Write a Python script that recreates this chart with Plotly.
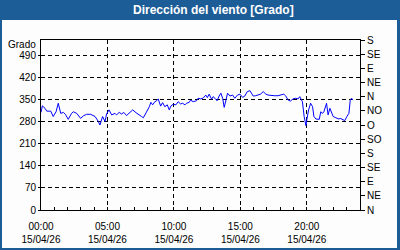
import plotly.graph_objects as go

# ---- data ----
times = ["00:00","00:06","00:18","00:26","00:44","00:55","01:08","01:18","01:29","01:41",
         "01:50","02:03","02:18","02:26","02:41","02:59","03:11","03:26","03:44","04:04",
         "04:19","04:26","04:38","04:49","04:56","05:07","05:19","05:34","05:41","05:53",
         "06:04","06:14","06:26","06:41","06:54","07:09","07:19","07:34","07:42","07:49",
         "07:57","08:09","08:16","08:24","08:34","08:42","08:49","09:00","09:09","09:19",
         "09:30","09:39","09:46","09:57","10:09","10:19","10:30","10:39","10:50","10:57",
         "11:09","11:15","11:27","11:42","11:49","12:01","12:11","12:24","12:31","12:39",
         "12:50","12:57","13:05","13:15","13:24","13:32","13:40","13:47","13:55","14:02",
         "14:13","14:25","14:35","14:47","14:58","15:10","15:20","15:31","15:43","15:51",
         "15:58","16:09","16:20","16:31","16:43","16:55","17:05","17:20","17:35","17:50",
         "18:06","18:16","18:25","18:36","18:46","18:58","19:10","19:21","19:28","19:40",
         "19:48","19:56","20:01","20:08","20:17","20:26","20:32","20:41","20:56","21:03",
         "21:11","21:17","21:29","21:36","21:44","21:52","21:59","22:11","22:25","22:31",
         "22:41","22:51","23:01","23:10","23:16","23:22","23:28"]
values = [310,331,323,314,314,297,312,339,307,310,
          304,288,307,312,307,291,299,304,304,297,
          281,270,297,281,305,318,302,307,302,310,
          305,310,300,310,318,309,305,297,293,302,
          312,328,342,334,344,347,353,330,341,328,
          334,318,330,336,334,344,337,339,334,339,
          342,349,344,347,355,353,355,365,357,368,
          352,360,355,347,362,371,355,326,349,371,
          362,365,355,365,368,358,362,376,379,370,
          362,363,365,368,376,368,365,363,363,363,
          365,368,362,349,346,353,355,353,360,344,
          297,268,291,318,339,328,297,289,288,312,
          307,312,339,302,323,307,297,293,289,291,
          288,284,297,307,349,355,349]
date = "2026-04-15"
left_ticks = [0, 70, 140, 210, 280, 350, 420, 490]
dir_vals = [0, 45, 90, 135, 180, 225, 270, 315, 360, 405, 450, 495, 540]
dir_text = ["N","NE","E","SE","S","SO","O","NO","N","NE","E","SE","S"]
title = "Dirección del viento [Grado]"
unit = "Grado"

x = [f"{date} {t}" for t in times]

BLUE = "#1d5d97"
BG = "#fcfdfc"
FONT = "Liberation Sans"

L, R, T, B = 41, 360, 40, 210
W, H = R - L, B - T
def px(xp): return (xp - L) / W
def py(yp): return (B - yp) / H

fig = go.Figure()
fig.add_trace(go.Scatter(x=x, y=values, mode="lines",
                         line=dict(color="#0000ff", width=1), showlegend=False,
                         hoverinfo="skip"))

fig.update_layout(
    width=400, height=250,
    margin=dict(l=L, r=400 - R, t=T, b=250 - B, autoexpand=False),
    paper_bgcolor=BLUE, plot_bgcolor=BG,
    font=dict(family=FONT, size=10, color="#000000"),
    xaxis=dict(type="date", range=[f"{date} 00:00", "2026-04-16 00:00"],
               tickformat="%H:%M<br>%d/%m/%y", dtick=5 * 3600000,
               tick0=f"{date} 00:00", automargin=False,
               showgrid=True, gridcolor="#000000", gridwidth=1, griddash="4px,3px",
               ticks="inside", ticklen=3, tickcolor="#000000", ticklabelstandoff=7,
               minor=dict(dtick=3600000, ticks="inside", ticklen=3, tickcolor="#000000", showgrid=False),
               showline=True, linecolor="#000000", linewidth=1, mirror=True,
               zeroline=False, tickfont=dict(size=10)),
    yaxis=dict(range=[0, 540], tickvals=left_ticks, ticktext=[str(v) for v in left_ticks],
               automargin=False,
               showgrid=True, gridcolor="#000000", gridwidth=1, griddash="4px,3px",
               ticks="outside", ticklen=2, tickcolor="#000000",
               showline=True, linecolor="#000000", linewidth=1, mirror=True,
               zeroline=False, tickfont=dict(size=10)),
    yaxis2=dict(range=[0, 540], overlaying="y", side="right", tickvals=dir_vals,
                ticktext=dir_text, ticks="outside", ticklen=4, tickcolor="#000000",
                automargin=False,
                showgrid=False, zeroline=False, showline=False, tickfont=dict(size=10)),
    shapes=[dict(type="rect", xref="paper", yref="paper", x0=px(2), x1=px(397),
                 y0=py(20), y1=py(248), fillcolor=BG, line=dict(width=0), layer="below")],
    annotations=[
        dict(text=f"<b>{title}</b>", xref="paper", yref="paper", x=px(213), y=py(10),
             xanchor="center", yanchor="middle", showarrow=False,
             font=dict(family=FONT, size=12, color="#ffffff")),
        dict(text=unit, xref="paper", yref="paper", x=px(37), y=py(44.5),
             xanchor="right", yanchor="middle", showarrow=False, borderpad=0,
             font=dict(family=FONT, size=10, color="#000000")),
    ],
)
fig.add_trace(go.Scatter(x=[x[0]], y=[None], yaxis="y2", showlegend=False, hoverinfo="skip"))

fig.write_html("out.html")
